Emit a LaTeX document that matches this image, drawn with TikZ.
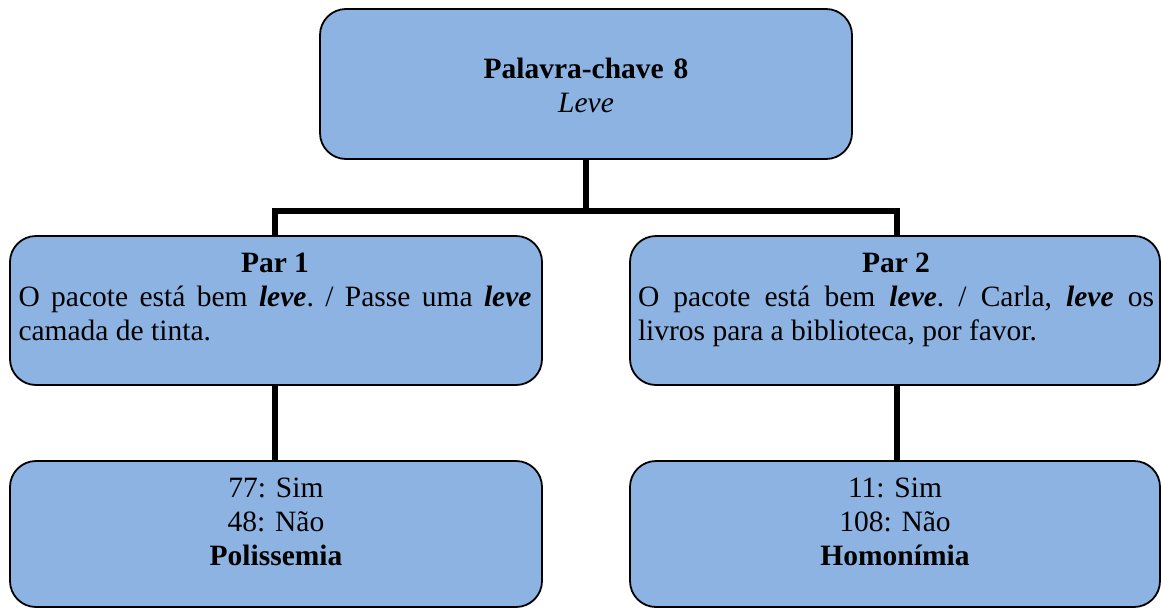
\documentclass[tikz,border=0pt]{standalone}
\usepackage{fontspec}
\setmainfont{Liberation Serif}
\frenchspacing
\definecolor{boxblue}{RGB}{141,179,226}
\begin{document}
\begin{tikzpicture}[x=1pt,y=-1pt,
  box/.style={draw=black,line width=1.8pt,fill=boxblue,rounded corners=26pt,
    inner sep=0pt,outer sep=0pt},
  txt/.style={inner sep=0pt,font=\fontsize{29.5}{34}\selectfont},
  link/.style={line width=5.5pt,black}]
\useasboundingbox (0,0) rectangle (1161,608);

% junction points of the tree lines
\coordinate (barL) at (275,211);
\coordinate (barR) at (897,211);
\coordinate (topJ) at (586,211);

% boxes
\node[box,minimum width=532pt,minimum height=150pt] (top) at (586,84) {};
\node[box,minimum width=532pt,minimum height=149pt] (p1) at (276,310.5) {};
\node[box,minimum width=530pt,minimum height=149pt] (p2) at (895,310.5) {};
\node[box,minimum width=532pt,minimum height=146pt] (r1) at (276,534) {};
\node[box,minimum width=530pt,minimum height=146pt] (r2) at (895,534) {};

% tree lines
\draw[link] (top.south) -- (topJ);
\draw[link,line join=miter] (p1.north -| barL) -- (barL) -- (barR) -- (p2.north -| barR);
\draw[link] (p1.south -| barL) -- (r1.north -| barL);
\draw[link] (p2.south -| barR) -- (r2.north -| barR);

% texts
\node[txt,text width=400pt,align=center,anchor=base] (ttop) at (586,78)
  {\textbf{Palavra-chave 8}\\\textit{Leve}};
\node[txt,text width=513pt,align=justify,anchor=base] (tp1) at (275,272)
  {{\centering\textbf{Par 1}\par}\noindent
   O pacote está bem \textbf{\textit{leve}}. / Passe uma \textbf{\textit{leve}}\linebreak
   camada de tinta.};
\node[txt,text width=516pt,align=justify,anchor=base] (tp2) at (896,272)
  {{\centering\textbf{Par 2}\par}\noindent
   O pacote está bem \textbf{\textit{leve}}. / Carla, \textbf{\textit{leve}} os\linebreak
   livros para a biblioteca, por favor.};
\node[txt,text width=400pt,align=center,anchor=base] (tr1) at (276,497)
  {77: Sim\\48: Não\\\textbf{Polissemia}};
\node[txt,text width=400pt,align=center,anchor=base] (tr2) at (895,497)
  {11: Sim\\108: Não\\\textbf{Homonímia}};
\end{tikzpicture}
\end{document}
